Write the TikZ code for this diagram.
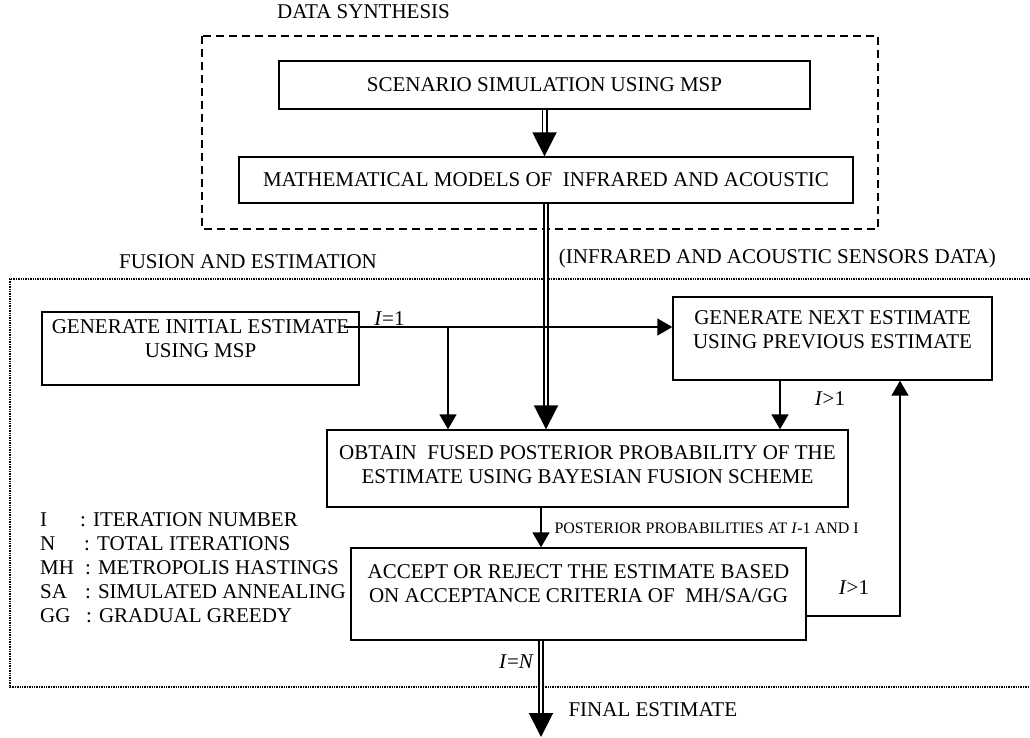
\documentclass[tikz,border=0pt]{standalone}
\usepackage{fontspec}
\setmainfont{Liberation Serif}
\usetikzlibrary{arrows.meta}
\newcommand{\stagetext}[4]{\parbox[c][#2][t]{#1}{\centering\vspace*{#3}#4}}
\begin{document}
\begin{tikzpicture}[x=1pt,y=-1pt,
  every node/.style={font=\fontsize{21}{24}\selectfont},
  stage/.style={draw,line width=1.4pt,inner sep=0pt},
  plain box/.style={draw,line width=1.4pt,inner sep=0pt,align=center},
  arr/.style={line width=1.6pt,-{Triangle[width=17pt,length=15pt]}},
  dbl/.style={double,double distance=2.2pt,line width=1.9pt,-{Triangle[width=24pt,length=24pt]}},
  small label/.style={font=\fontsize{16}{18}\selectfont}]
  \useasboundingbox (0,0) rectangle (1030,738);

  % data synthesis part
  \node at (363.5,12) (synthtitle) {DATA SYNTHESIS};
  \draw[line width=1.8pt,dash pattern=on 8pt off 5pt] (202,36) rectangle (878,229);
  \node[plain box,minimum width=531pt,minimum height=48pt] at (544.5,85) (synth1) {SCENARIO SIMULATION USING MSP};
  \node[plain box,minimum width=614pt,minimum height=46pt] at (546,180) (synth2) {MATHEMATICAL MODELS OF\ \ INFRARED AND ACOUSTIC};

  % fusion and estimation part
  \node at (248,262) (fusiontitle) {FUSION AND ESTIMATION};
  \node at (777.5,258) (sensordata) {(INFRARED AND ACOUSTIC SENSORS DATA)};
  \draw[line width=1.4pt,densely dotted] (1030,279) -- (10,279) -- (10,687) -- (1030,687);

  \node[stage] at (200.5,348.5) (initest) {\stagetext{317pt}{73pt}{8pt}{GENERATE INITIAL ESTIMATE\\USING MSP}};
  \node[stage] at (832.5,338.5) (nextest) {\stagetext{319pt}{83pt}{14pt}{GENERATE NEXT ESTIMATE\\USING PREVIOUS ESTIMATE}};
  \node[stage] at (587.5,468.5) (fused) {\stagetext{521pt}{77pt}{16pt}{OBTAIN\ \ FUSED POSTERIOR PROBABILITY OF THE\\ESTIMATE USING BAYESIAN FUSION SCHEME}};
  \node[stage] at (578.5,594) (accept) {\stagetext{455pt}{92pt}{17pt}{ACCEPT OR REJECT THE ESTIMATE BASED\\ON ACCEPTANCE CRITERIA OF\ \ MH/SA/GG}};

  \node[anchor=north west,inner sep=0pt,align=left] at (40,512) (legend) {%
    \makebox[40pt][l]{I}: ITERATION NUMBER\\
    \makebox[44pt][l]{N}: TOTAL ITERATIONS\\
    \makebox[45pt][l]{MH}: METROPOLIS HASTINGS\\
    \makebox[45pt][l]{SA}: SIMULATED ANNEALING\\
    \makebox[46pt][l]{GG}: GRADUAL GREEDY};

  % helper points
  \coordinate (split) at (448,327);
  \coordinate (nextdown) at (780,0);
  \coordinate (middown) at (541,0);
  \coordinate (loop) at (900,616);
  \coordinate (final) at (541,737);

  % connectors
  \draw[dbl] (synth1.south) -- (synth1.south |- synth2.north);
  \draw[dbl] (synth2.south) -- (synth2.south |- fused.north);
  \draw[line width=1.6pt] ([xshift=-16pt]initest.east |- split) -- (split);
  \draw[arr] (split) -- (nextest.west |- split);
  \draw[arr] (split) -- (split |- fused.north);
  \draw[arr] (nextest.south -| nextdown) -- (fused.north -| nextdown);
  \draw[arr] (fused.south -| middown) -- (accept.north -| middown);
  \draw[arr] (accept.east |- loop) -- (loop) -- (loop |- nextest.south);
  \draw[dbl] (accept.south -| middown) -- (final);

  % labels
  \node at (389.5,319) (lblfirst) {\textit{I}=1};
  \node at (830,399) (lblnext) {\textit{I}>1};
  \node at (854,588) (lblloop) {\textit{I}>1};
  \node at (516.5,662) (lbllast) {\textit{I}=\textit{N}};
  \node[small label,anchor=west] at (551,528) (lblpost) {POSTERIOR PROBABILITIES AT \textit{I}-1 AND I};
  \node[anchor=west] at (565,710) (finalest) {FINAL ESTIMATE};
\end{tikzpicture}
\end{document}
